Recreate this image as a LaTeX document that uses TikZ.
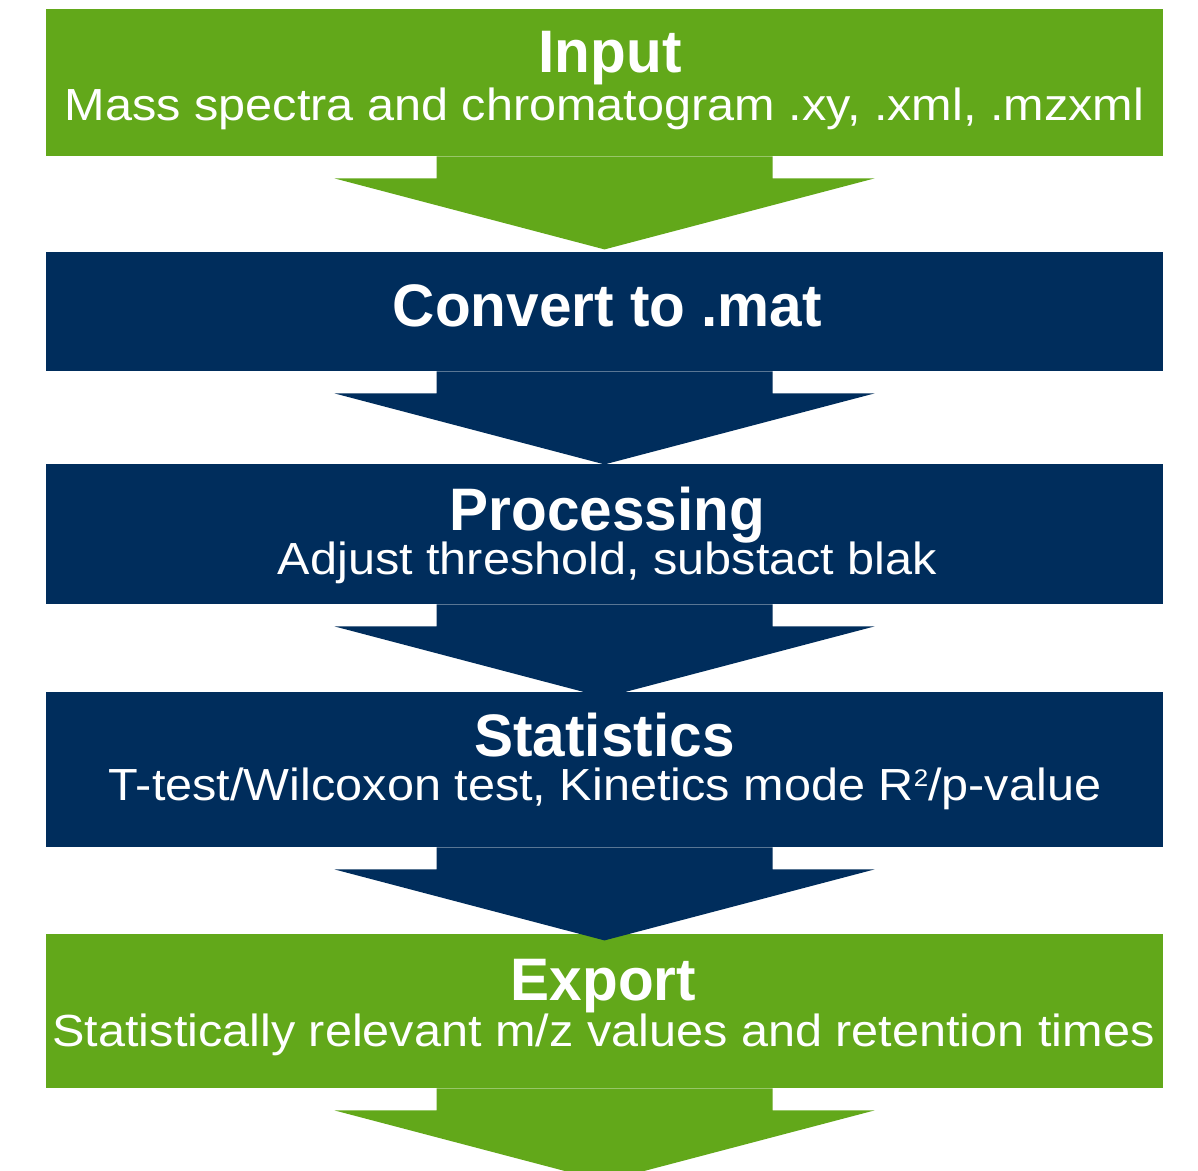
\documentclass[tikz,border=0pt]{standalone}
\usepackage{fontspec}
\setmainfont{Liberation Sans}
\newfontface\headfont[FakeStretch=0.975]{Liberation Sans Bold}
\newfontface\subfont[FakeStretch=1.08]{Liberation Sans}
\definecolor{stepgreen}{RGB}{98,168,26}
\definecolor{stepnavy}{RGB}{0,45,92}
\tikzset{
  stagebox/.style={rectangle, inner sep=0pt, minimum width=1117pt, anchor=north},
  headline/.style={anchor=base, inner sep=0pt, text=white, font=\headfont\fontsize{60}{60}\selectfont},
  subline/.style={anchor=base, inner sep=0pt, text=white, font=\subfont\fontsize{45}{45}\selectfont},
}
% block arrow hanging below a stage box: shaft 22pt, head 71pt deep
\newcommand{\stagearrow}[2]{%
  \fill[#2] ([xshift=-168pt]#1.south) -- ([xshift=-168pt,yshift=-22pt]#1.south)
    -- ([xshift=-270pt,yshift=-22pt]#1.south) -- ([yshift=-93pt]#1.south)
    -- ([xshift=270pt,yshift=-22pt]#1.south) -- ([xshift=168pt,yshift=-22pt]#1.south)
    -- ([xshift=168pt]#1.south) -- cycle;}
\newcommand{\sqmark}{\raisebox{14pt}{\fontsize{24}{24}\selectfont 2}}
\begin{document}
\begin{tikzpicture}[x=1pt,y=-1pt]
\clip (0,0) rectangle (1198,1170);
\fill[white] (0,0) rectangle (1198,1170);

\node[stagebox, fill=stepgreen, minimum height=147pt] (b1) at (604.5,9) {};
\stagearrow{b1}{stepgreen}
\node[stagebox, fill=stepnavy, minimum height=119pt] (b2) at (604.5,252) {};
\stagearrow{b2}{stepnavy}
\node[stagebox, fill=stepnavy, minimum height=140pt] (b3) at (604.5,464) {};
\stagearrow{b3}{stepnavy}
\node[stagebox, fill=stepnavy, minimum height=155pt] (b4) at (604.5,692) {};
\node[stagebox, fill=stepgreen, minimum height=154pt] (b5) at (604.5,934) {};
\stagearrow{b4}{stepnavy}
\stagearrow{b5}{stepgreen}

\node[headline] (t1) at (610,72) {Input};
\node[subline] (s1) at (604.5,120) {Mass spectra and chromatogram .xy, .xml, .mzxml};
\node[headline] (t2) at (607.5,326) {Convert to .mat};
\node[headline] (t3) at (607.5,530) {Processing};
\node[subline] (s3) at (607.5,574) {Adjust threshold, substact blak};
\node[headline] (t4) at (604.5,756) {Statistics};
\node[subline] (s4) at (605,800) {T-test/Wilcoxon test, Kinetics mode R\sqmark/p-value};
\node[headline] (t5) at (603.5,1000) {Export};
\node[subline] (s5) at (603.5,1046) {Statistically relevant m/z values and retention times};
\end{tikzpicture}
\end{document}
